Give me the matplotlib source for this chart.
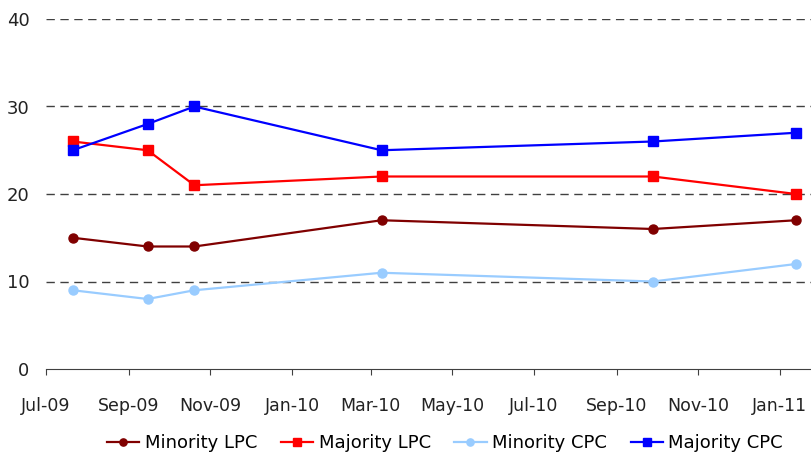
import matplotlib
matplotlib.use("Agg")
import matplotlib.pyplot as plt
import matplotlib.dates as mdates
import pandas as pd

# survey dates and values
dates = pd.to_datetime(["2009-07-21", "2009-09-15", "2009-10-20",
                        "2010-03-09", "2010-09-28", "2011-01-13"])
minority_lpc = [15, 14, 14, 17, 16, 17]
majority_lpc = [26, 25, 21, 22, 22, 20]
minority_cpc = [9, 8, 9, 11, 10, 12]
majority_cpc = [25, 28, 30, 25, 26, 27]

plt.rcParams['font.family'] = ['DejaVu Sans']

fig = plt.figure(figsize=(8.12, 4.61), dpi=100)
ax = fig.add_axes([46 / 812, 1 - 369 / 461, 1 - 46 / 812, (369 - 19) / 461])

ax.plot(dates, minority_lpc, color='#800000', marker='o', markersize=6.5, lw=1.6, label='Minority LPC', clip_on=False)
ax.plot(dates, majority_lpc, color='#FF0000', marker='s', markersize=7.2, lw=1.6, label='Majority LPC', clip_on=False)
ax.plot(dates, minority_cpc, color='#99CCFF', marker='o', markersize=6.5, lw=1.6, label='Minority CPC', clip_on=False)
ax.plot(dates, majority_cpc, color='#0000FF', marker='s', markersize=7.2, lw=1.6, label='Majority CPC', clip_on=False)

ax.set_ylim(0, 40)
ax.set_yticks([0, 10, 20, 30, 40])
ax.set_xlim(pd.Timestamp("2009-07-01"), pd.Timestamp("2011-01-25"))
ax.xaxis.set_major_locator(mdates.MonthLocator(bymonth=[1, 3, 5, 7, 9, 11]))
ax.xaxis.set_major_formatter(mdates.DateFormatter('%b-%y'))

for y in [10, 20, 30, 40]:
    ax.axhline(y, color='#404040', lw=1, dashes=(6, 4), zorder=0)

for s in ['top', 'right', 'left']:
    ax.spines[s].set_visible(False)
ax.spines['bottom'].set_color('#404040')
ax.tick_params(axis='y', length=0, pad=12, labelsize=13, colors='#222222')
ax.tick_params(axis='x', length=4, pad=16, labelsize=12.5, colors='#404040', labelcolor='#222222')

ax.legend(loc='center', bbox_to_anchor=(445 / 812, 1 - 443 / 461), bbox_transform=fig.transFigure,
          ncol=4, frameon=False, fontsize=13, handlelength=1.8, columnspacing=1.3,
          handletextpad=0.3, markerscale=0.8)

fig.savefig('out.png', dpi=100)
